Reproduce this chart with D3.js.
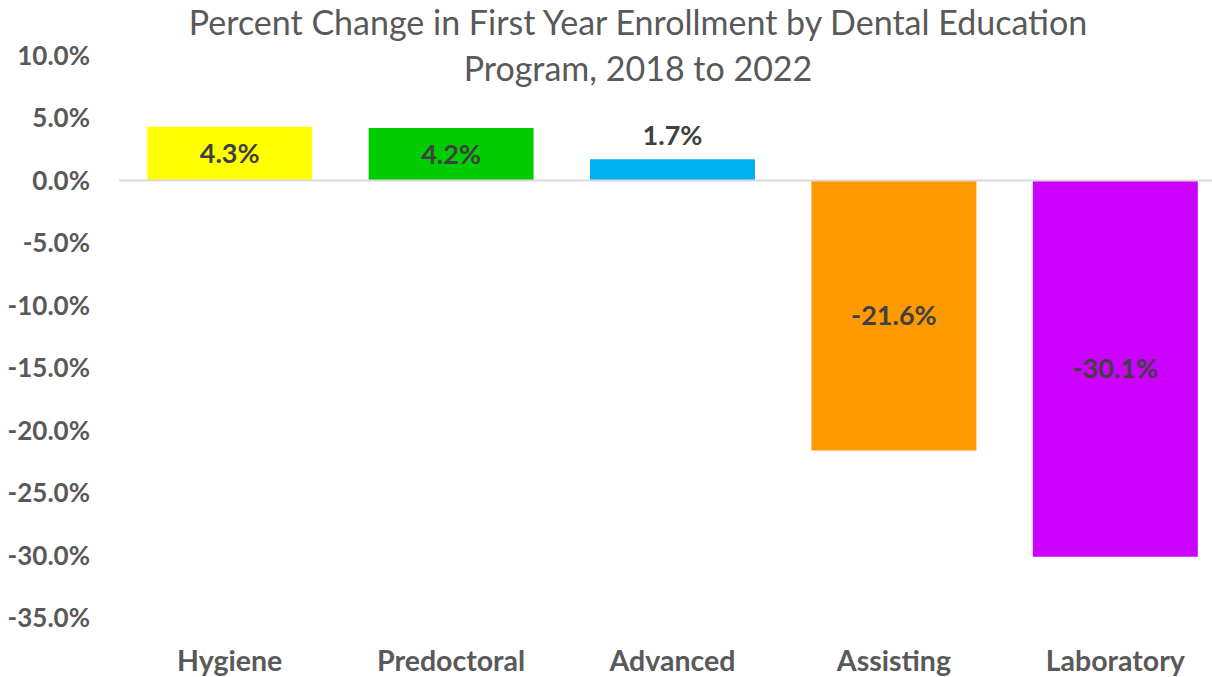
<!DOCTYPE html>
<html>
<head>
<meta charset="utf-8">
<script src="https://cdn.jsdelivr.net/npm/d3@7"></script>
<style>
  body { margin: 0; background: #fff; }
  svg { display: block; font-family: Lato, "Open Sans", sans-serif; }
</style>
</head>
<body>
<div id="chart"></div>
<script>
    // data
    categories = ["Hygiene", "Predoctoral", "Advanced", "Assisting", "Laboratory"]
    values = [4.3, 4.2, 1.7, -21.6, -30.1]
    colors = ["#FFFF00", "#00CC00", "#00B0F0", "#FF9900", "#CC00FF"]
    yTicks = [10, 5, 0, -5, -10, -15, -20, -25, -30, -35]
    title = ["Percent Change in First Year Enrollment by Dental Education", "Program, 2018 to 2022"]

    canvas = ({width: 1212, height: 677})

    var svg = d3.select("#chart").append("svg")
        .attr("width", canvas.width)
        .attr("height", canvas.height)

    x = d3.scaleBand()
        .domain(categories)
        .range([119, 1226])
        .paddingInner(0.255)
        .paddingOuter(0.1275)

    y = d3.scaleLinear()
        .domain([-35, 10])
        .range([618, 55.5])

    // title
    svg.append("text")
        .attr("text-anchor", "middle")
        .attr("fill", "#595959")
        .style("font-size", "34px")
        .selectAll("tspan")
        .data(title)
        .join("tspan")
        .attr("x", 638)
        .attr("y", (d, i) => 35 + i * 46)
        .text(d => d)

    // y axis labels
    svg.append("g")
        .selectAll("text")
        .data(yTicks)
        .join("text")
        .attr("x", 90)
        .attr("y", d => y(d))
        .attr("dy", "0.35em")
        .attr("text-anchor", "end")
        .attr("fill", "#595959")
        .style("font-size", "26px")
        .style("font-weight", "bold")
        .text(d => d.toFixed(1) + "%")

    // bars
    svg.append("g")
        .selectAll("rect")
        .data(values)
        .join("rect")
        .attr("x", (d, i) => x(categories[i]))
        .attr("width", x.bandwidth())
        .attr("y", d => y(Math.max(0, d)))
        .attr("height", d => Math.abs(y(d) - y(0)))
        .attr("fill", (d, i) => colors[i])

    // zero line
    svg.append("line")
        .attr("x1", 119)
        .attr("x2", canvas.width)
        .attr("y1", y(0))
        .attr("y2", y(0))
        .attr("stroke", "#d9d9d9")
        .attr("stroke-width", 2)

    // value labels
    svg.append("g")
        .selectAll("text")
        .data(values)
        .join("text")
        .attr("x", (d, i) => x(categories[i]) + x.bandwidth() / 2)
        .attr("y", d => Math.abs(y(d) - y(0)) < 30 ? y(d) - 24 : (y(d) + y(0)) / 2)
        .attr("dy", "0.35em")
        .attr("text-anchor", "middle")
        .attr("fill", "#404040")
        .style("font-size", "27px")
        .style("font-weight", "bold")
        .text(d => d.toFixed(1) + "%")

    // category labels
    svg.append("g")
        .selectAll("text")
        .data(categories)
        .join("text")
        .attr("x", d => x(d) + x.bandwidth() / 2)
        .attr("y", 671)
        .attr("text-anchor", "middle")
        .attr("fill", "#595959")
        .style("font-size", "28.5px")
        .style("font-weight", "bold")
        .text(d => d)
</script>
</body>
</html>
